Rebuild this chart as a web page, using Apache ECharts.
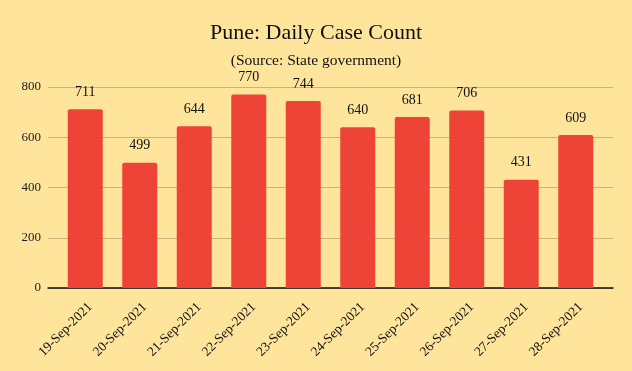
<!DOCTYPE html>
<html><head><meta charset="utf-8">
<script src="https://cdn.jsdelivr.net/npm/echarts@6/dist/echarts.min.js"></script>
<style>html,body{margin:0;padding:0;background:#FFE49C;}#c{width:632px;height:371px;}</style>
</head><body><div id="c"></div>
<script>
const categories = ['19-Sep-2021','20-Sep-2021','21-Sep-2021','22-Sep-2021','23-Sep-2021','24-Sep-2021','25-Sep-2021','26-Sep-2021','27-Sep-2021','28-Sep-2021'];
const cases = [711, 499, 644, 770, 744, 640, 681, 706, 431, 609];
const yTicks = [0, 200, 400, 600, 800];

const FONT = '"Liberation Serif", "DejaVu Serif", serif';
const chart = echarts.init(document.getElementById('c'));
chart.setOption({
  backgroundColor: '#FFE49C',
  animation: false,
  textStyle: { fontFamily: FONT },
  title: [
    { text: 'Pune: Daily Case Count', left: 'center', top: 17,
      textStyle: { fontFamily: FONT, fontSize: 22, fontWeight: 'normal', color: '#111' } },
    { text: '(Source: State government)', left: 'center', top: 48,
      textStyle: { fontFamily: FONT, fontSize: 15.5, fontWeight: 'normal', color: '#111' } }
  ],
  grid: [
    { left: 48, right: 19, top: 87, bottom: 83 },
    { left: 58, right: 29, top: 87, bottom: 83 }
  ],
  xAxis: [
    { gridIndex: 0, type: 'category', data: categories, axisLabel: { show: false }, axisTick: { show: false },
      axisLine: { show: true, lineStyle: { color: '#111', width: 1.5 } } },
    { gridIndex: 1, type: 'category', data: categories, axisTick: { show: false }, axisLine: { show: false },
      axisLabel: { interval: 0, rotate: 45, margin: 12, verticalAlign: 'top', fontFamily: FONT, fontSize: 13.5, color: '#111' } }
  ],
  yAxis: [
    { gridIndex: 0, type: 'value', min: yTicks[0], max: yTicks[yTicks.length - 1], interval: 200,
      axisLine: { show: false }, axisTick: { show: false },
      splitLine: { lineStyle: { color: '#C8B47A', width: 1 } },
      axisLabel: { fontFamily: FONT, fontSize: 13, color: '#222', margin: 7 } },
    { gridIndex: 1, type: 'value', min: yTicks[0], max: yTicks[yTicks.length - 1], interval: 200, show: false,
      splitLine: { show: false } }
  ],
  series: [{
    type: 'bar', xAxisIndex: 1, yAxisIndex: 1, data: cases, barWidth: 35,
    itemStyle: { color: '#EE4437', borderRadius: [2, 2, 0, 0] },
    label: { show: true, position: 'top', distance: 10, fontFamily: FONT, fontSize: 14, color: '#111' }
  }]
});
</script></body></html>
